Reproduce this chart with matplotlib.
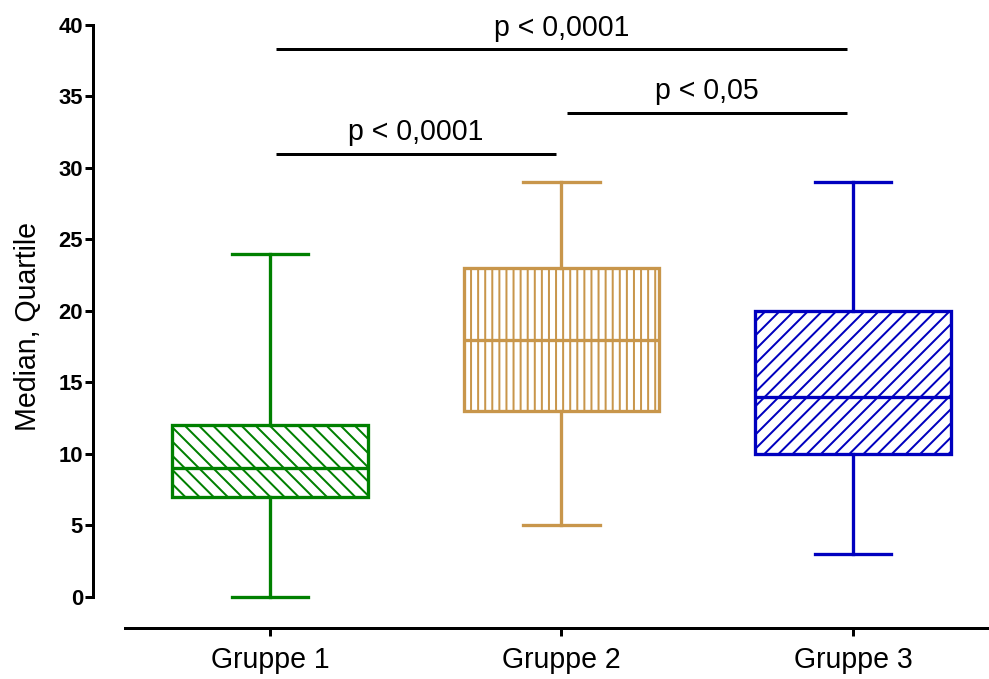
import matplotlib
matplotlib.use('Agg')
import matplotlib.pyplot as plt

# render at a lower dpi so the hatch spacing comes out closer to the original
DPI = 85


def px(v):
    # pixels -> points
    return v * 72 / DPI


plt.rcParams['font.family'] = ['Liberation Sans', 'DejaVu Sans']
plt.rcParams['hatch.linewidth'] = px(2.0)

groups = ['Gruppe 1', 'Gruppe 2', 'Gruppe 3']
whislo = [0, 5, 3]
q1 = [7, 13, 10]
med = [9, 18, 14]
q3 = [12, 23, 20]
whishi = [24, 29, 29]

colors = ['#008000', '#C8964B', '#0000BF']
hatches = ['\\\\', '||', '//']

# significance brackets: (from group, to group, height, label)
sig_from = [1, 2, 1]
sig_to = [2, 3, 3]
sig_y = [31, 33.85, 38.3]
sig_text = ['p < 0,0001', 'p < 0,05', 'p < 0,0001']

stats = []
for i in range(len(groups)):
    stats.append({'label': groups[i], 'whislo': whislo[i], 'q1': q1[i],
                  'med': med[i], 'q3': q3[i], 'whishi': whishi[i], 'fliers': []})

fig = plt.figure(figsize=(989 / DPI, 679 / DPI), dpi=DPI)
ax = fig.add_axes([125 / 989, 1 - 628 / 679, 864 / 989, 603 / 679])

bp = ax.bxp(stats, positions=[1, 2, 3], widths=0.672, capwidths=0.264,
            patch_artist=True, showfliers=False)

lw = px(3.3)
for i, c in enumerate(colors):
    box = bp['boxes'][i]
    box.set_facecolor('white')
    box.set_edgecolor(c)
    box.set_linewidth(lw)
    box.set_hatch(hatches[i])
    bp['medians'][i].set_color(c)
    bp['medians'][i].set_linewidth(lw)
    for ln in bp['whiskers'][2 * i:2 * i + 2] + bp['caps'][2 * i:2 * i + 2]:
        ln.set_color(c)
        ln.set_linewidth(lw)

for a, b, y, t in zip(sig_from, sig_to, sig_y, sig_text):
    ax.plot([a + 0.02, b - 0.02], [y, y], color='black', lw=px(3),
            solid_capstyle='butt')
    ax.text((a + b) / 2, y + 0.95, t, ha='center', va='baseline', fontsize=px(28.5))

ax.set_xlim(0.5026, 3.4666)
ax.set_ylim(-2.168, 40)

ax.spines['top'].set_visible(False)
ax.spines['right'].set_visible(False)
ax.spines['left'].set_position(('outward', px(32)))
ax.spines['left'].set_bounds(0, 40)
ax.spines['left'].set_linewidth(px(3))
ax.spines['bottom'].set_linewidth(px(3))

ax.set_yticks(range(0, 41, 5))
ax.set_xticks([1, 2, 3])
ax.set_xticklabels(groups)
ax.tick_params(axis='y', length=px(8), width=px(3), labelsize=px(22), pad=px(2))
ax.tick_params(axis='x', length=px(8), width=px(3), labelsize=px(28.5), pad=px(10))
for lab in ax.get_yticklabels():
    lab.set_fontweight('bold')

ax.set_ylabel('Median, Quartile', fontsize=px(28.5), labelpad=px(16))

fig.savefig('out.png', dpi=DPI)
